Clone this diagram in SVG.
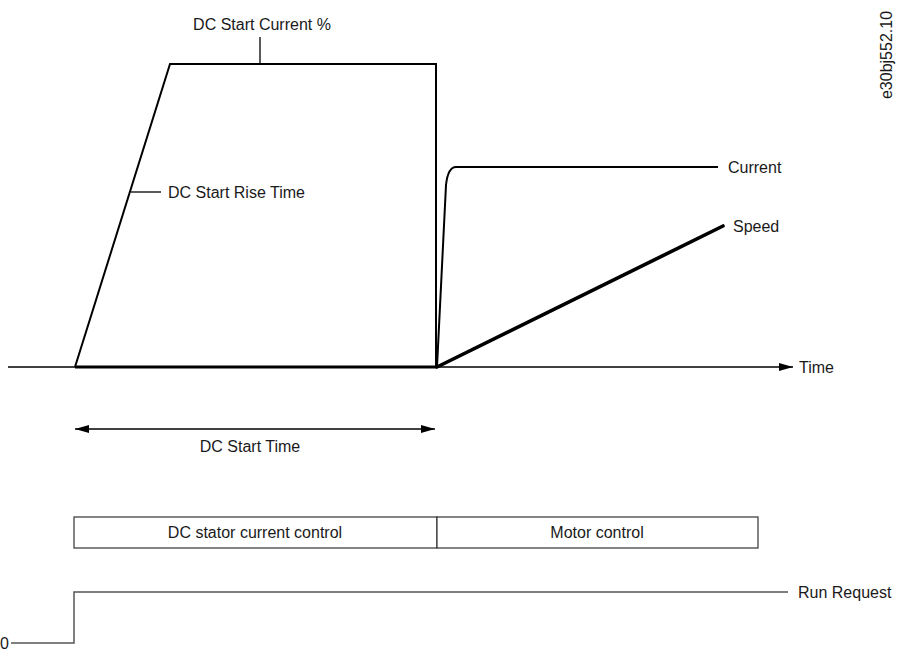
<svg xmlns="http://www.w3.org/2000/svg" width="899" height="651" viewBox="0 0 899 651">
<defs>
<style>
text{font-family:"Liberation Sans",Arial,sans-serif;font-size:16px;fill:#1a1a1a}
.thin{fill:none;stroke:#000;stroke-width:1.3}
.mid{fill:none;stroke:#000;stroke-width:2}
.thick{fill:none;stroke:#000;stroke-width:3}
.grey{fill:none;stroke:#555;stroke-width:1.5}
.box{fill:#fff;stroke:#333;stroke-width:1.2}
</style>
<marker id="ah" viewBox="0 0 14 8" refX="14" refY="4" markerWidth="14" markerHeight="8" markerUnits="userSpaceOnUse" orient="auto-start-reverse">
<path d="M0,0 L14,4 L0,8 Z" fill="#000"/>
</marker>
</defs>
<rect width="899" height="651" fill="#fff"/>

<g id="axis">
<line class="thin" x1="8" y1="367" x2="793" y2="367" marker-end="url(#ah)"/>
<text x="799" y="373">Time</text>
</g>

<g id="dc-current">
<path class="mid" d="M75,367 L170,64 L436,64 L436,367"/>
<line class="thick" x1="75" y1="367" x2="437" y2="367"/>
</g>

<g id="label-start-current">
<line class="thin" x1="260" y1="37" x2="260" y2="64"/>
<text x="262" y="30" text-anchor="middle">DC Start Current %</text>
</g>

<g id="label-rise-time">
<line class="thin" x1="131" y1="192" x2="161" y2="192"/>
<text x="168" y="198">DC Start Rise Time</text>
</g>

<g id="current">
<path class="mid" d="M437,367 L446,185 Q448,167 456,167 L718,167"/>
<text x="728" y="173">Current</text>
</g>

<g id="speed">
<line stroke="#000" stroke-width="3.6" stroke-linecap="round" x1="437" y1="367" x2="723" y2="226"/>
<text x="733" y="232">Speed</text>
</g>

<g id="start-time">
<line class="thin" x1="75" y1="429" x2="435" y2="429" marker-start="url(#ah)" marker-end="url(#ah)"/>
<text x="250" y="452" text-anchor="middle">DC Start Time</text>
</g>

<g id="box-dc">
<rect class="box" x="74" y="517" width="363" height="31"/>
<text x="255" y="538" text-anchor="middle">DC stator current control</text>
</g>

<g id="box-motor">
<rect class="box" x="437" y="517" width="321" height="31"/>
<text x="597" y="538" text-anchor="middle">Motor control</text>
</g>

<g id="run-request">
<path class="grey" d="M11,643 L74,643 L74,592 L788,592"/>
<text x="798" y="598">Run Request</text>
<text x="0" y="649">0</text>
</g>

<text x="892" y="55" text-anchor="middle" transform="rotate(-90 892 55)" style="font-size:16px">e30bj552.10</text>
</svg>
